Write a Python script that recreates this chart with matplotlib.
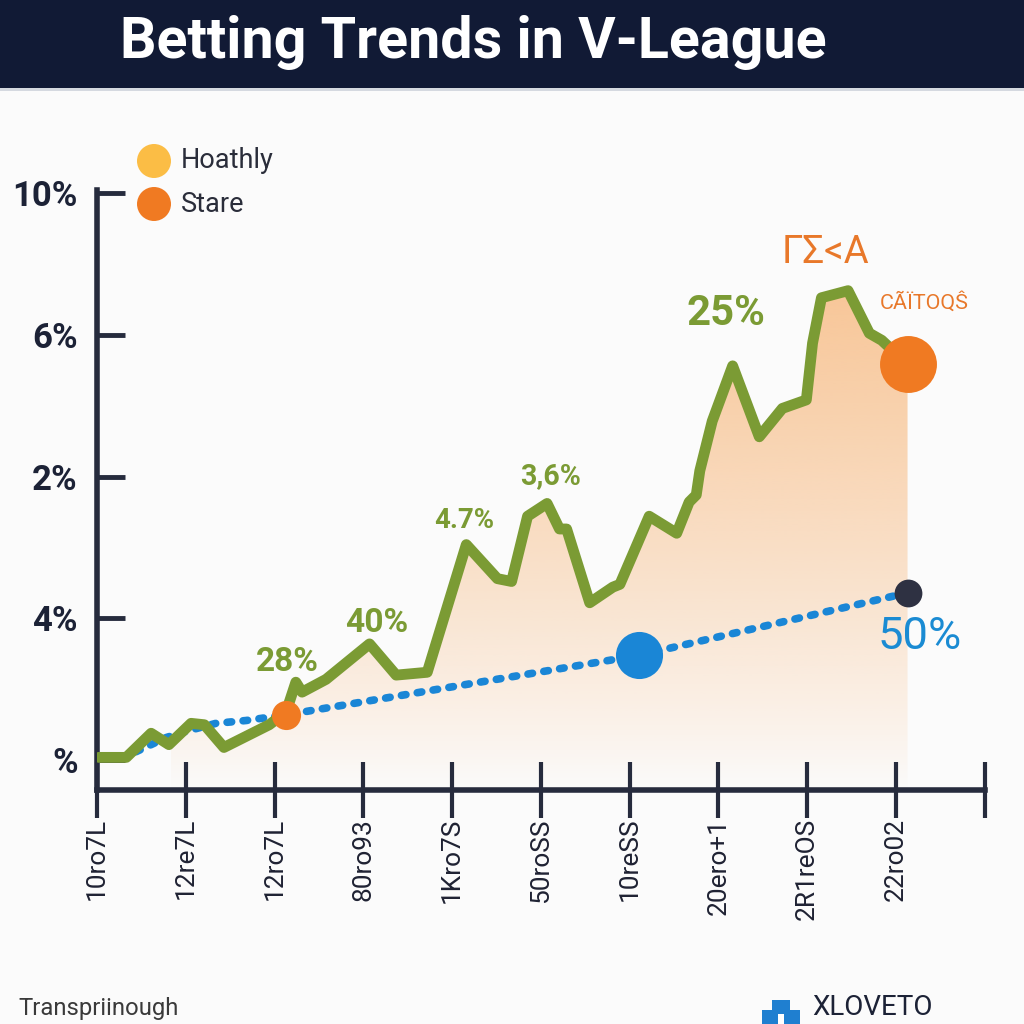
import numpy as np
import matplotlib
matplotlib.use('Agg')
import matplotlib.pyplot as plt
from matplotlib import font_manager
from matplotlib.colors import to_rgb
from matplotlib.patches import Rectangle, Circle, Polygon

# narrow font if we have one, otherwise Roboto a bit smaller
names = {f.name for f in font_manager.fontManager.ttflist}
if 'Liberation Sans Narrow' in names:
    narrow, k = 'Liberation Sans Narrow', 1.0
else:
    narrow, k = 'Roboto', 0.86

# chart data (y in tick units: 0 = "%", 4 = "10%")
x_labels = ['10ro7L', '12re7L', '12ro7L', '80ro93', '1Kro7S', '50roSS',
            '10reSS', '20ero+1', '2R1reOS', '22ro02']
y_labels = ['%', '4%', '2%', '6%', '10%']

green_x = [0.02, 0.33, 0.61, 0.81, 1.06, 1.21, 1.43, 1.94, 2.13, 2.24, 2.31, 2.58,
           3.07, 3.37, 3.72, 4.16, 4.51, 4.67, 4.85, 5.07, 5.21, 5.29, 5.55, 5.81,
           5.89, 6.22, 6.53, 6.67, 6.75, 6.79, 6.93, 7.16, 7.46, 7.72, 7.99, 8.06,
           8.16, 8.46, 8.70, 8.84, 9.13]
green_y = [0.02, 0.02, 0.19, 0.11, 0.26, 0.25, 0.09, 0.25, 0.34, 0.55, 0.48, 0.57,
           0.82, 0.60, 0.62, 1.52, 1.28, 1.26, 1.72, 1.81, 1.63, 1.63, 1.11, 1.22,
           1.24, 1.72, 1.60, 1.82, 1.87, 2.04, 2.39, 2.78, 2.28, 2.48, 2.54, 2.94,
           3.26, 3.31, 3.01, 2.96, 2.79]

blue_x = [0.44, 0.78, 1.04, 1.34, 1.68, 2.13, 6.11, 9.13]
blue_y = [0.06, 0.16, 0.21, 0.26, 0.28, 0.32, 0.74, 1.18]

legend_labels = ['Hoathly', 'Stare']
legend_colors = ['#fbbd45', '#f07a22']

# annotation text, position (x, y), colour, size, weight
notes = [
    ('28%', 2.15, 0.69, '#7b9b34', 28, 'bold'),
    ('40%', 3.15, 0.97, '#7b9b34', 28, 'bold'),
    ('4.7%', 4.14, 1.69, '#7b9b34', 23, 'bold'),
    ('3,6%', 5.11, 2.00, '#7b9b34', 24, 'bold'),
    ('25%', 7.08, 3.15, '#7b9b34', 35, 'bold'),
    ('ΓΣ<A', 8.21, 3.58, '#e8782a', 32, 'normal'),
    ('CÃÏTOQŜ', 9.32, 3.23, '#e8782a', 18, 'normal'),
    ('50%', 9.27, 0.87, '#1a8bd3', 38, 'normal'),
]

fig = plt.figure(figsize=(10.24, 10.24), dpi=100)
fig.patch.set_facecolor('#fbfbfb')

# title bar
fig.add_artist(Rectangle((0, 1 - 88 / 1024), 1, 88 / 1024, transform=fig.transFigure,
                         facecolor='#111a35', edgecolor='none'))
fig.add_artist(Rectangle((0, 1 - 91 / 1024), 1, 3 / 1024, transform=fig.transFigure,
                         facecolor='#d5d9e0', edgecolor='none'))
fig.text(0.462, 1 - 43 / 1024, 'Betting Trends in V-League', color='white',
         fontsize=48 * k, fontweight='bold', family=narrow, ha='center', va='center')

ax = fig.add_axes([0.0947, 0.2285, 0.867, 0.586])
ax.set_facecolor('none')
ybot, ytop = -0.21, 4.02

# gradient fill under the green line
fx = np.linspace(0.83, green_x[-1], 400)
fy = np.interp(fx, green_x, green_y)
poly = Polygon(np.column_stack([np.r_[fx, fx[-1], fx[0]], np.r_[fy, ybot, ybot]]),
               closed=True, facecolor='none', edgecolor='none', transform=ax.transData)
ax.add_patch(poly)
grad = np.zeros((256, 1, 4))
grad[..., :3] = to_rgb('#f7b272')
grad[:, 0, 3] = 0.72 * np.linspace(0, 1, 256) ** 0.85
im = ax.imshow(grad, extent=[fx[0], fx[-1], ybot, max(green_y)], origin='lower',
               aspect='auto', interpolation='bilinear', zorder=1)
im.set_clip_path(poly)

ax.plot(blue_x, blue_y, color='#1a86d6', lw=5.5, linestyle=(0, (0.6, 1.5)),
        dash_capstyle='round', zorder=3)
ax.plot(green_x, green_y, color='#7b9b34', lw=7.8, solid_joinstyle='round',
        solid_capstyle='round', zorder=4)

ax.scatter([blue_x[5]], [blue_y[5]], s=440, color='#f07a22', zorder=5, linewidths=0)
ax.scatter([blue_x[6]], [blue_y[6]], s=1150, color='#1a86d6', zorder=5, linewidths=0)
ax.scatter([blue_x[-1]], [blue_y[-1]], s=400, color='#2e3142', zorder=5, linewidths=0)
ax.scatter([green_x[-1]], [green_y[-1]], s=1680, color='#f07a22', zorder=5, linewidths=0)

for txt, x, y, c, size, w in notes:
    ax.text(x, y, txt, color=c, fontsize=size * k, fontweight=w, family=narrow,
            ha='center', va='center', zorder=6)

ax.set_xlim(0, 10)
ax.set_ylim(ybot, ytop)
for side in ['top', 'right']:
    ax.spines[side].set_visible(False)
for side in ['left', 'bottom']:
    ax.spines[side].set_linewidth(4)
    ax.spines[side].set_color('#262b3d')

ax.set_xticks(range(11))
ax.set_xticklabels(x_labels + [''], rotation=90, fontsize=22 * k, family=narrow,
                   color='#1f2233')
ax.tick_params(axis='x', direction='inout', length=40, width=3, color='#262b3d', pad=0)
ax.set_yticks(range(5))
ax.set_yticklabels(y_labels, fontsize=29 * k, fontweight='bold', family=narrow,
                   color='#1c2236')
ax.tick_params(axis='y', direction='in', length=20, width=3.5, color='#262b3d', pad=14)

# legend
for i, (lab, col) in enumerate(zip(legend_labels, legend_colors)):
    yy = 1 - (161 + 43 * i) / 1024
    fig.add_artist(Circle((154 / 1024, yy), 17 / 1024, transform=fig.transFigure,
                          facecolor=col, edgecolor='none'))
    fig.text(181 / 1024, yy, lab, fontsize=19.5, family='Roboto', color='#2a2d3a',
             ha='left', va='center')

# footer
fig.text(18 / 1024, 1 - 1009 / 1024, 'Transpriinough', fontsize=20 * k, family=narrow,
         color='#3a3a3a', ha='left', va='center')
fig.add_artist(Rectangle((762 / 1024, 0), 38 / 1024, 14 / 1024, transform=fig.transFigure,
                         facecolor='#1f7fd0', edgecolor='none'))
fig.add_artist(Rectangle((772 / 1024, 0), 18 / 1024, 24 / 1024, transform=fig.transFigure,
                         facecolor='#1f7fd0', edgecolor='none'))
fig.add_artist(Rectangle((778 / 1024, 0), 6 / 1024, 10 / 1024, transform=fig.transFigure,
                         facecolor='white', edgecolor='none'))
fig.text(812 / 1024, 3 / 1024, 'XLOVETO', fontsize=20, family='Roboto',
         color='#1c2236', ha='left', va='bottom')

fig.savefig('out.png', dpi=100, facecolor=fig.get_facecolor())
